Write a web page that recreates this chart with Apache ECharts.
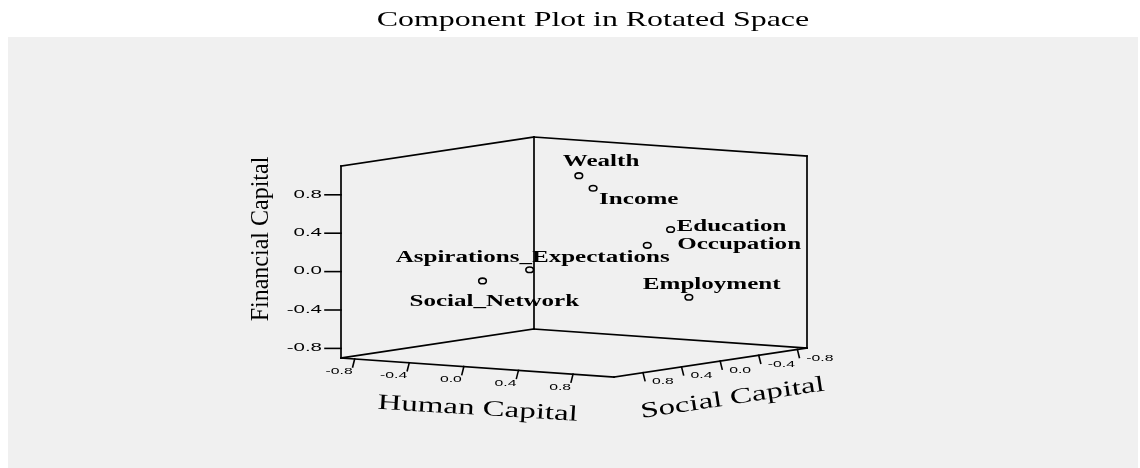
<!DOCTYPE html>
<html><head><meta charset="utf-8">
<script src="https://cdn.jsdelivr.net/npm/echarts@6/dist/echarts.min.js"></script>
<style>html,body{margin:0;padding:0;background:#fff}#c{width:1140px;height:468px}</style>
</head><body><div id="c"></div>
<script>
// ---------- data ----------
const chartTitle = 'Component Plot in Rotated Space';
const variables = ['Wealth', 'Income', 'Education', 'Occupation', 'Employment', 'Aspirations_Expectations', 'Social_Network'];
const humanCapital = [0.10, 0.24, 0.85, 0.75, 0.80, 0.27, -0.04];
const socialCapital = [0.05, 0.10, 0.16, 0.26, -0.10, 0.80, 0.85];
const financialCapital = [0.94, 0.83, 0.47, 0.31, -0.28, 0.09, -0.05];
const tickValues = [-0.8, -0.4, 0.0, 0.4, 0.8];
const tickLabels = ['-0.8', '-0.4', '0.0', '0.4', '0.8'];
const axisMin = -0.9, axisMax = 1.1;
const axisTitles = ['Human Capital', 'Social Capital', 'Financial Capital'];

// ---------- view / style ----------
const VIEW = { hx: 136.5, hy: -9.5, sx: -96.5, sy: -14.5, fz: 96 };
const labelOffsets = [[-16, -14], [6, 11.5], [6, -2.5], [30, -0.5], [-46, -13], [-134, -12.5], [-73, 21]];
const SERIF = '"Liberation Serif", "Times New Roman", serif';
const SANS = '"Liberation Sans", Arial, sans-serif';
const INK = '#000';
const LW = 1.7;

function project(h, s, f) {
  const u = h - axisMin, v = s - axisMin, w = f - axisMin;
  return [VIEW.hx * u + VIEW.sx * v, VIEW.hy * u + VIEW.sy * v + VIEW.fz * w];
}

function frameRender(params, api) {
  const P = (h, s, f) => api.coord(project(h, s, f));
  const lo = axisMin, hi = axisMax;
  const ch = [];
  const line = (a, b, w) => ch.push({ type: 'line', shape: { x1: a[0], y1: a[1], x2: b[0], y2: b[1] }, style: { stroke: INK, lineWidth: w || LW, lineCap: 'square' } });
  const edges = [
    [[lo, lo, lo], [lo, hi, lo]], [[lo, lo, lo], [hi, lo, lo]],
    [[lo, hi, lo], [hi, hi, lo]], [[hi, hi, lo], [hi, lo, lo]],
    [[lo, hi, lo], [lo, hi, hi]], [[lo, lo, lo], [lo, lo, hi]], [[lo, hi, hi], [lo, lo, hi]],
    [[hi, lo, lo], [hi, lo, hi]], [[lo, lo, hi], [hi, lo, hi]]
  ];
  edges.forEach(e => line(P(...e[0]), P(...e[1])));
  tickValues.forEach((t, i) => {
    // Financial (vertical) axis on left wall edge
    const a = P(lo, hi, t);
    line(a, [a[0] - 16, a[1]], 1.6);
    ch.push({ type: 'text', x: a[0] - 19, y: a[1], scaleX: 2.05,
      style: { text: tickLabels[i], fontSize: 10, fontFamily: SANS, fill: INK, align: 'right', verticalAlign: 'middle' } });
    // Human axis (front-left floor edge)
    const b = P(t, hi, lo);
    line(b, [b[0] - 2, b[1] + 8], 1.6);
    ch.push({ type: 'text', x: b[0] - 2, y: b[1] + 13, scaleX: 1.75,
      style: { text: tickLabels[i], fontSize: 9, fontFamily: SANS, fill: INK, align: 'right', verticalAlign: 'middle' } });
    // Social axis (front-right floor edge)
    const c = P(hi, t, lo);
    line(c, [c[0] + 2, c[1] + 8], 1.6);
    ch.push({ type: 'text', x: c[0] + 9, y: c[1] + 9, scaleX: 1.75,
      style: { text: tickLabels[i], fontSize: 9, fontFamily: SANS, fill: INK, align: 'left', verticalAlign: 'middle' } });
  });
  // axis titles
  const hm = P((lo + hi) / 2 - 0.05, hi, lo);
  ch.push({ type: 'text', x: hm[0] + 7, y: hm[1] + 42, rotation: -0.06, scaleX: 1.5,
    style: { text: axisTitles[0], fontSize: 22, fontFamily: SERIF, fill: INK, align: 'center', verticalAlign: 'middle' } });
  const sm = P(hi, (lo + hi) / 2, lo);
  ch.push({ type: 'text', x: sm[0] + 22, y: sm[1] + 36, rotation: 0.15, scaleX: 1.5,
    style: { text: axisTitles[1], fontSize: 22, fontFamily: SERIF, fill: INK, align: 'center', verticalAlign: 'middle' } });
  const fm = P(lo, hi, (lo + hi) / 2);
  ch.push({ type: 'text', x: fm[0] - 80, y: fm[1] - 23, rotation: Math.PI / 2, scaleX: 1.2, scaleY: 1.3,
    style: { text: axisTitles[2], fontSize: 20, fontFamily: SERIF, fill: INK, align: 'center', verticalAlign: 'middle' } });
  return { type: 'group', children: ch };
}

function pointRender(params, api) {
  const i = api.value(3);
  const p = api.coord(project(api.value(0), api.value(1), api.value(2)));
  const off = labelOffsets[i];
  return { type: 'group', children: [
    { type: 'ellipse', shape: { cx: p[0], cy: p[1], rx: 3.8, ry: 2.8 }, style: { fill: 'none', stroke: INK, lineWidth: 1.6 } },
    { type: 'text', x: p[0] + off[0], y: p[1] + off[1], scaleX: 1.5,
      style: { text: variables[i], fontSize: 16.7, fontWeight: 'bold', fontFamily: SERIF, fill: INK, align: 'left', verticalAlign: 'middle' } }
  ] };
}

const chart = echarts.init(document.getElementById('c'), null, { renderer: 'canvas' });
chart.setOption({
  animation: false,
  backgroundColor: '#fff',
  graphic: [{ type: 'text', x: 593, y: 20, scaleX: 1.45, z: 10,
    style: { text: chartTitle, fontSize: 22, fontFamily: SERIF, fill: INK, align: 'center', verticalAlign: 'middle' } }],
  grid: { left: 8, top: 37, right: 2, bottom: 0, show: true, backgroundColor: '#f0f0f0', borderWidth: 0 },
  xAxis: { type: 'value', min: -526, max: 604, show: false },
  yAxis: { type: 'value', min: -139, max: 292, show: false },
  series: [
    { type: 'custom', name: 'frame', renderItem: frameRender, data: [[0, 0]], silent: true },
    { type: 'custom', name: 'variables', renderItem: pointRender,
      data: variables.map((n, i) => [humanCapital[i], socialCapital[i], financialCapital[i], i]), silent: true }
  ]
});
</script></body></html>
